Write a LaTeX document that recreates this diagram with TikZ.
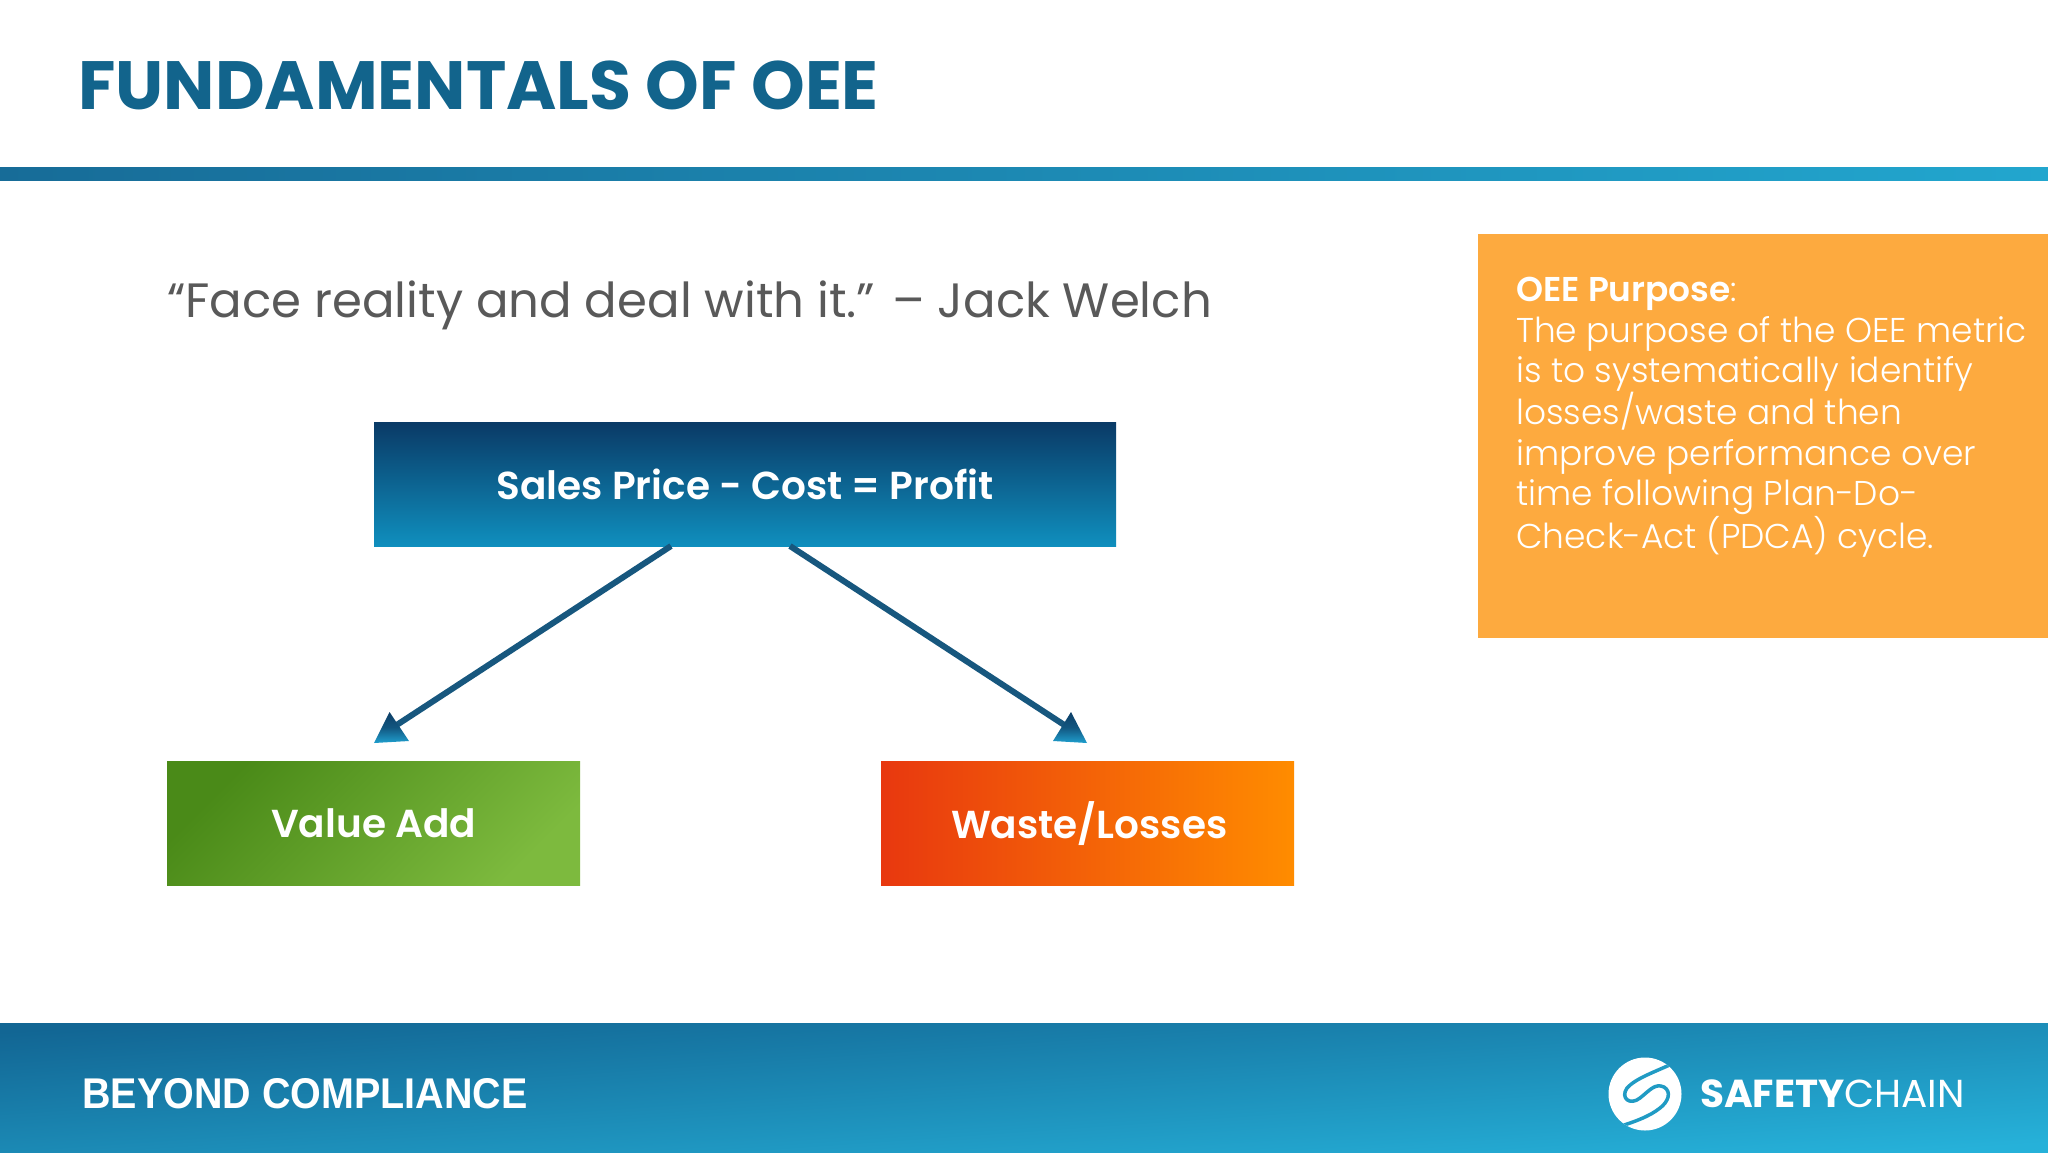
\documentclass[tikz,border=0pt]{standalone}
\usepackage{fontspec}
\usetikzlibrary{calc}
\newfontfamily\popl{Poppins Light}
\newfontfamily\popr{Poppins}
\newfontfamily\pops{Poppins SemiBold}
\newfontfamily\popb{Poppins Bold}
\newfontfamily\foot[FakeStretch=0.918]{Liberation Sans Bold}
\definecolor{titleblue}{HTML}{12648C}
\definecolor{quotegrey}{HTML}{595959}
\definecolor{sideorange}{HTML}{FDAA3F}
\definecolor{lineblue}{HTML}{17577E}
\definecolor{barleft}{HTML}{176C98}
\definecolor{barright}{HTML}{22A6CE}
\definecolor{salestop}{HTML}{0A3A66}
\definecolor{salesbot}{HTML}{0F8FBE}
\definecolor{greenl}{HTML}{4A8A18}
\definecolor{greenr}{HTML}{7DBA3E}
\definecolor{orangel}{HTML}{E8380F}
\definecolor{oranger}{HTML}{FF8C00}
\definecolor{foottop}{HTML}{126694}
\definecolor{footbot}{HTML}{26B1D9}
\definecolor{headtop}{HTML}{0D3E66}
\definecolor{headbot}{HTML}{1F9FCE}
\tikzset{
  x=1pt,y=-1pt,
  flowbox/.style={minimum width=#1,minimum height=124pt,inner sep=0pt,text=white,font=\pops\fontsize{39}{44}\selectfont},
  link/.style={line width=6pt,color=lineblue},
  head/.style={top color=headtop,bottom color=headbot,middle color=headtop!75!headbot}
}
\begin{document}
\begin{tikzpicture}
\useasboundingbox (0,0) rectangle (2048,1152);
\fill[white] (0,0) rectangle (2048,1152);
% header
\node[anchor=base west,inner sep=0pt,text=titleblue,font=\popb\fontsize{68.3}{70}\selectfont] (title) at (78,109) {FUNDAMENTALS OF OEE};
\shade[left color=barleft,right color=barright] (0,167) rectangle (2048,180);
% quote
\node[anchor=base west,inner sep=0pt,text=quotegrey,font=\popr\fontsize{48.2}{60}\selectfont] (quote) at (167,317) {“Face reality and deal with it.” – Jack Welch};
% flow boxes
\node[flowbox=742pt,top color=salestop,bottom color=salesbot,anchor=north west] (sales) at (374,422) {Sales Price - Cost = Profit};
\node[flowbox=413pt,anchor=north west,left color=greenl,right color=greenr,shading angle=45] (value) at (167,761) {Value Add};
\node[flowbox=413pt,anchor=north west,left color=orangel,right color=oranger] (waste) at (881,761) {\hspace*{3pt}Waste/Losses};
\coordinate (ls) at (671,546);
\coordinate (rs) at (790,546);
\coordinate (lt) at (374,743);
\coordinate (rt) at (1087,743);
\draw[link] (ls) -- ($(lt)+(15,-13)$);
\draw[link] (rs) -- ($(rt)+(-15,-13)$);
\shade[head] (lt) -- (389.5,712) -- (409,741) -- cycle;
\shade[head] (rt) -- (1071,712) -- (1053,741) -- cycle;
% side panel
\fill[sideorange] (1478,234) rectangle (2048,638);
\node[anchor=north west,inner sep=0pt,align=left,text=white,font=\popl\fontsize{34.4}{40.5}\selectfont] (side) at (1516,277) {{\pops OEE Purpose}:\\The purpose of the OEE metric\\is to systematically identify\\losses/waste and then\\improve performance over\\time following Plan-Do-\\Check-Act (PDCA) cycle.};
% footer
\shade[left color=foottop,right color=footbot,shading angle=4] (0,1023) rectangle (2048,1152);
\node[anchor=base west,inner sep=0pt,text=white,font=\foot\fontsize{43}{50}\selectfont] (tag) at (82,1108) {BEYOND COMPLIANCE};
% logo
\begin{scope}
\clip (1645,1094) circle[radius=36.5];
\fill[white] (1600,1050) rectangle (1690,1140);
\draw[line width=3.5pt,foottop!30!footbot,line cap=round] (1676,1062) .. controls (1655,1072) and (1636,1078) .. (1627,1088) .. controls (1620,1098) and (1630,1106) .. (1640,1098) .. controls (1650,1090) and (1655,1083) .. (1664,1087) .. controls (1672,1092) and (1668,1102) .. (1660,1108) .. controls (1650,1116) and (1635,1122) .. (1614,1128);
\end{scope}
\node[anchor=base west,inner sep=0pt,text=white,font=\popr\fontsize{39}{40}\selectfont] (brand) at (1700,1107) {{\popb SAFETY}CHAIN};
\end{tikzpicture}
\end{document}
